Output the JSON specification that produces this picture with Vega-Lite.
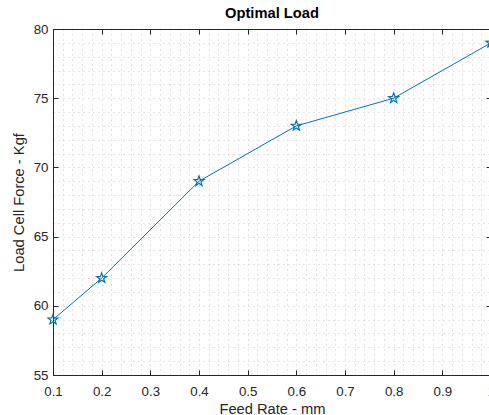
{
  "$schema": "https://vega.github.io/schema/vega-lite/v6.json",
  "width": 438,
  "height": 346,
  "autosize": "none",
  "padding": {"left": 53, "top": 29, "right": 0, "bottom": 40},
  "background": "white",
  "config": {
    "view": {"stroke": null},
    "font": "Liberation Sans",
    "axis": {
      "labelFont": "Liberation Sans",
      "titleFont": "Liberation Sans",
      "labelColor": "#262626",
      "titleColor": "#262626",
      "domainColor": "#262626",
      "tickColor": "#262626",
      "labelFontSize": 13.3,
      "titleFontSize": 14.7,
      "titleFontWeight": "normal",
      "labelFlush": false,
      "labelOverlap": false,
      "domainWidth": 1,
      "tickWidth": 1
    }
  },
  "title": {
    "text": "Optimal Load",
    "font": "Liberation Sans",
    "fontSize": 14.7,
    "fontWeight": "bold",
    "color": "#000000",
    "frame": "group",
    "anchor": "middle",
    "baseline": "alphabetic",
    "offset": 9.5,
    "dy": 20
  },
  "data": {
    "values": [
      {"feed": 0.1, "force": 59},
      {"feed": 0.2, "force": 62},
      {"feed": 0.4, "force": 69},
      {"feed": 0.6, "force": 73},
      {"feed": 0.8, "force": 75},
      {"feed": 1.0, "force": 79}
    ]
  },
  "layer": [
    {
      "mark": {"type": "line", "color": "#0072BD", "strokeWidth": 1, "clip": false},
      "encoding": {
        "x": {
          "field": "feed", "type": "quantitative",
          "scale": {"domain": [0.1, 1.0], "nice": false, "zero": false},
          "axis": {
            "orient": "bottom",
            "title": "Feed Rate - mm",
            "titlePadding": 4,
            "values": [0.1,0.12,0.14,0.16,0.18,0.2,0.22,0.24,0.26,0.28,0.3,0.32,0.34,0.36,0.38,0.4,0.42,0.44,0.46,0.48,0.5,0.52,0.54,0.56,0.58,0.6,0.62,0.64,0.66,0.68,0.7,0.72,0.74,0.76,0.78,0.8,0.82,0.84,0.86,0.88,0.9,0.92,0.94,0.96,0.98,1.0],
            "labelExpr": "abs(datum.value*10 - round(datum.value*10)) < 0.001 ? format(datum.value, '~g') : ''",
            "tickSize": -5,
            "tickOpacity": {"condition": {"test": "abs(datum.value*10 - round(datum.value*10)) < 0.001", "value": 1}, "value": 0},
            "labelPadding": 14,
            "grid": true,
            "gridColor": "#cccccc",
            "gridDash": [1, 4],
            "gridWidth": 1
          }
        },
        "y": {
          "field": "force", "type": "quantitative",
          "scale": {"domain": [55, 80], "nice": false, "zero": false},
          "axis": {
            "orient": "left",
            "title": "Load Cell Force - Kgf",
            "titlePadding": 7,
            "values": [55,56,57,58,59,60,61,62,63,64,65,66,67,68,69,70,71,72,73,74,75,76,77,78,79,80],
            "labelExpr": "datum.value % 5 == 0 ? datum.label : ''",
            "tickSize": -5,
            "tickOpacity": {"condition": {"test": "datum.value % 5 == 0", "value": 1}, "value": 0},
            "labelPadding": 10,
            "grid": true,
            "gridColor": "#cccccc",
            "gridDash": [1, 4],
            "gridWidth": 1
          }
        }
      }
    },
    {
      "mark": {
        "type": "point",
        "shape": "M0,-1L0.235,-0.324L0.951,-0.309L0.380,0.124L0.588,0.809L0,0.4L-0.588,0.809L-0.380,0.124L-0.951,-0.309L-0.235,-0.324Z",
        "filled": false,
        "color": "#0072BD",
        "strokeWidth": 1.2,
        "size": 110,
        "opacity": 1,
        "clip": false
      },
      "encoding": {
        "x": {
          "field": "feed", "type": "quantitative",
          "axis": {
            "orient": "top",
            "title": null,
            "labels": false,
            "values": [0.1,0.2,0.3,0.4,0.5,0.6,0.7,0.8,0.9,1.0],
            "tickSize": -5,
            "grid": false
          }
        },
        "y": {
          "field": "force", "type": "quantitative",
          "axis": {
            "orient": "right",
            "title": null,
            "labels": false,
            "values": [55,60,65,70,75,80],
            "tickSize": -5,
            "grid": false
          }
        }
      }
    }
  ]
}
